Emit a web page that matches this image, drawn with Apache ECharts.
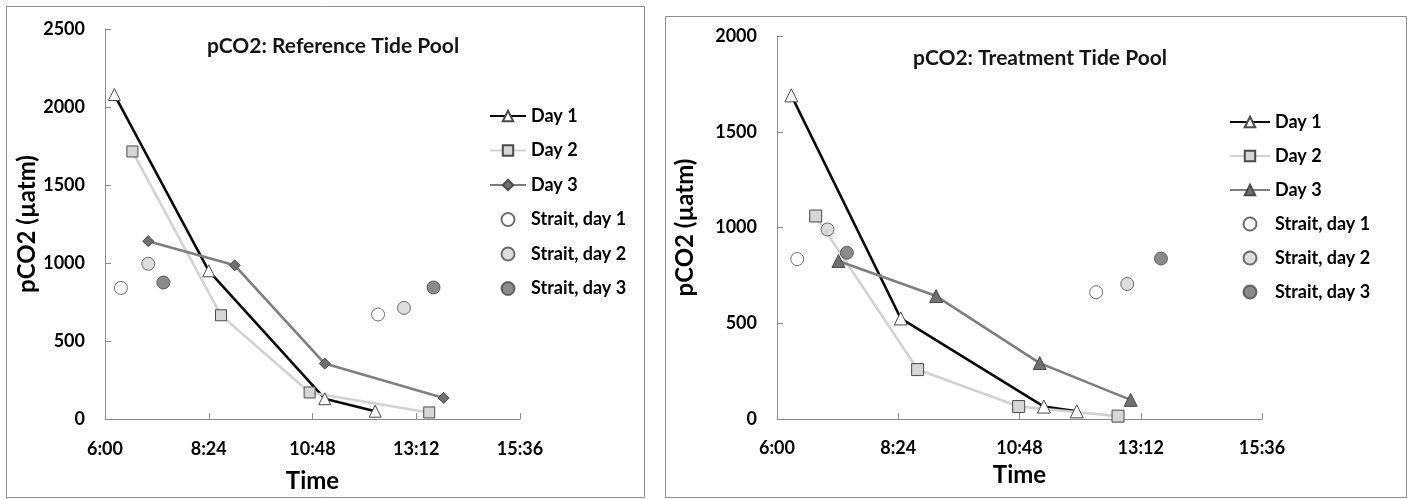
<!DOCTYPE html>
<html>
<head>
<meta charset="utf-8">
<script src="https://cdn.jsdelivr.net/npm/echarts@6/dist/echarts.min.js"></script>
<style>
html,body{margin:0;padding:0;background:#fff;}
#c{width:1415px;height:499px;}
</style>
</head>
<body>
<div id="c"></div>
<script>
// ---- data (time of day, pCO2 in µatm) ----
const tickLabels = ['6:00', '8:24', '10:48', '13:12', '15:36'];

const refDay1Time = ['6:13', '8:24', '11:05', '12:15'];
const refDay1Val  = [2080, 950, 130, 50];
const refDay2Time = ['6:38', '8:41', '10:44', '13:30'];
const refDay2Val  = [1715, 665, 170, 42];
const refDay3Time = ['7:00', '9:00', '11:05', '13:50'];
const refDay3Val  = [1140, 985, 355, 135];
const refStrait1Time = ['6:22', '12:19'];
const refStrait1Val  = [840, 670];
const refStrait2Time = ['7:00', '12:55'];
const refStrait2Val  = [995, 712];
const refStrait3Time = ['7:21', '13:36'];
const refStrait3Val  = [875, 843];

const trtDay1Time = ['6:17', '8:27', '11:17', '11:56'];
const trtDay1Val  = [1690, 525, 65, 40];
const trtDay2Time = ['6:46', '8:47', '10:47', '12:45'];
const trtDay2Val  = [1060, 258, 65, 15];
const trtDay3Time = ['7:13', '9:09', '11:12', '13:00'];
const trtDay3Val  = [825, 642, 292, 100];
const trtStrait1Time = ['6:24', '12:19'];
const trtStrait1Val  = [835, 662];
const trtStrait2Time = ['7:00', '12:56'];
const trtStrait2Val  = [990, 705];
const trtStrait3Time = ['7:23', '13:36'];
const trtStrait3Val  = [868, 838];

const seriesNames = ['Day 1', 'Day 2', 'Day 3', 'Strait, day 1', 'Strait, day 2', 'Strait, day 3'];
// right-hand chart gets its own legend entries (trailing space keeps them distinct)
const seriesNamesR = seriesNames.map(n => n + ' ');

// ---- helpers ----
const BASE = 6 * 60; // axis origin 6:00, values are minutes after 6:00
function toMin(t) { const p = t.split(':'); return (+p[0]) * 60 + (+p[1]) - BASE; }
function pts(times, vals) { return times.map((t, i) => [toMin(t), vals[i]]); }
function fmtTime(v) {
  const m = Math.round(v + BASE);
  const h = Math.floor(m / 60), mm = m % 60;
  return h + ':' + (mm < 10 ? '0' : '') + mm;
}

const FONT = 'Lato';
const axisGray = '#8a8a8a';
const edge = '#4a4a4a';

function lineSeries(name, data, idx, lineColor, symbol, fill, size) {
  return {
    name: name, type: 'line', xAxisIndex: idx, yAxisIndex: idx, data: data,
    symbol: symbol, symbolSize: size,
    lineStyle: { color: lineColor, width: 2.6 },
    itemStyle: { color: fill, borderColor: edge, borderWidth: 1 },
    z: 3
  };
}
function scatterSeries(name, data, idx, fill) {
  return {
    name: name, type: 'scatter', xAxisIndex: idx, yAxisIndex: idx, data: data,
    symbol: 'circle', symbolSize: 13,
    itemStyle: { color: fill, borderColor: edge, borderWidth: 1 },
    z: 4
  };
}

function xAxisCfg(idx, margin, nameGap) {
  return {
    gridIndex: idx, type: 'value', min: 0, max: 576, interval: 144,
    name: 'Time', nameLocation: 'middle', nameGap: nameGap,
    nameTextStyle: { fontFamily: FONT, fontWeight: 'bold', fontSize: 24, color: '#000' },
    axisLine: { show: true, lineStyle: { color: axisGray, width: 1 } },
    axisTick: { show: true, inside: true, length: 6, lineStyle: { color: axisGray } },
    axisLabel: { formatter: function (v) { return tickLabels[Math.round(v / 144)] || fmtTime(v); },
      fontFamily: FONT, fontWeight: 'bold', fontSize: 18, color: '#000', margin: margin },
    splitLine: { show: false }
  };
}
function yAxisCfg(idx, max, nameGap) {
  return {
    gridIndex: idx, type: 'value', min: 0, max: max, interval: 500,
    name: 'pCO2 (µatm)', nameLocation: 'middle', nameGap: nameGap,
    nameTextStyle: { fontFamily: FONT, fontWeight: 'bold', fontSize: 24, color: '#000' },
    axisLine: { show: true, lineStyle: { color: axisGray, width: 1 } },
    axisTick: { show: true, inside: true, length: 6, lineStyle: { color: axisGray } },
    axisLabel: { formatter: function (v) { return String(v); },
      fontFamily: FONT, fontWeight: 'bold', fontSize: 18, color: '#000', margin: 20 },
    splitLine: { show: false }
  };
}

const legendText = { fontFamily: FONT, fontWeight: 'bold', fontSize: 18, color: '#000' };

const option = {
  backgroundColor: '#fff',
  animation: false,
  graphic: [
    { type: 'rect', shape: { x: 6.5, y: 6.5, width: 638, height: 491 }, style: { fill: 'none', stroke: '#8c8c8c', lineWidth: 1 }, z: -1 },
    { type: 'rect', shape: { x: 665.5, y: 16.5, width: 741, height: 481 }, style: { fill: 'none', stroke: '#8c8c8c', lineWidth: 1 }, z: -1 }
  ],
  title: [
    { text: 'pCO2: Reference Tide Pool', left: 328, top: 31, textAlign: 'center',
      textStyle: { fontFamily: FONT, fontWeight: 'bold', fontSize: 21, color: '#151515' } },
    { text: 'pCO2: Treatment Tide Pool', left: 1035, top: 43, textAlign: 'center',
      textStyle: { fontFamily: FONT, fontWeight: 'bold', fontSize: 21, color: '#151515' } }
  ],
  legend: [
    { data: seriesNames.map(n => ({ name: n })), orient: 'vertical', left: 489, top: 107,
      itemWidth: 36, itemHeight: 13, itemGap: 16.5, textStyle: legendText, padding: 0,
      selectedMode: false },
    { data: seriesNamesR.map(n => ({ name: n })), orient: 'vertical', left: 1229, top: 113,
      itemWidth: 40, itemHeight: 13, itemGap: 16, textStyle: legendText, padding: 0,
      selectedMode: false }
  ],
  grid: [
    { left: 105, top: 29, width: 415, height: 390 },
    { left: 777, top: 36, width: 485, height: 383 }
  ],
  xAxis: [ xAxisCfg(0, 21, 50), xAxisCfg(1, 20, 44) ],
  yAxis: [ yAxisCfg(0, 2500, 62), yAxisCfg(1, 2000, 80) ],
  series: [
    lineSeries(seriesNames[0], pts(refDay1Time, refDay1Val), 0, '#0a0a0a', 'triangle', '#ffffff', 12),
    lineSeries(seriesNames[1], pts(refDay2Time, refDay2Val), 0, '#d2d2d2', 'rect', '#d6d6d6', 11),
    lineSeries(seriesNames[2], pts(refDay3Time, refDay3Val), 0, '#7f7f7f', 'diamond', '#707070', 11),
    scatterSeries(seriesNames[3], pts(refStrait1Time, refStrait1Val), 0, '#ffffff'),
    scatterSeries(seriesNames[4], pts(refStrait2Time, refStrait2Val), 0, '#d4d4d4'),
    scatterSeries(seriesNames[5], pts(refStrait3Time, refStrait3Val), 0, '#6e6e6e'),

    lineSeries(seriesNamesR[0], pts(trtDay1Time, trtDay1Val), 1, '#0a0a0a', 'triangle', '#ffffff', 13),
    lineSeries(seriesNamesR[1], pts(trtDay2Time, trtDay2Val), 1, '#d2d2d2', 'rect', '#d6d6d6', 12),
    lineSeries(seriesNamesR[2], pts(trtDay3Time, trtDay3Val), 1, '#7f7f7f', 'triangle', '#707070', 13),
    scatterSeries(seriesNamesR[3], pts(trtStrait1Time, trtStrait1Val), 1, '#ffffff'),
    scatterSeries(seriesNamesR[4], pts(trtStrait2Time, trtStrait2Val), 1, '#d4d4d4'),
    scatterSeries(seriesNamesR[5], pts(trtStrait3Time, trtStrait3Val), 1, '#6e6e6e')
  ]
};

const chart = echarts.init(document.getElementById('c'), null, { renderer: 'canvas' });
chart.setOption(option);
</script>
</body>
</html>
